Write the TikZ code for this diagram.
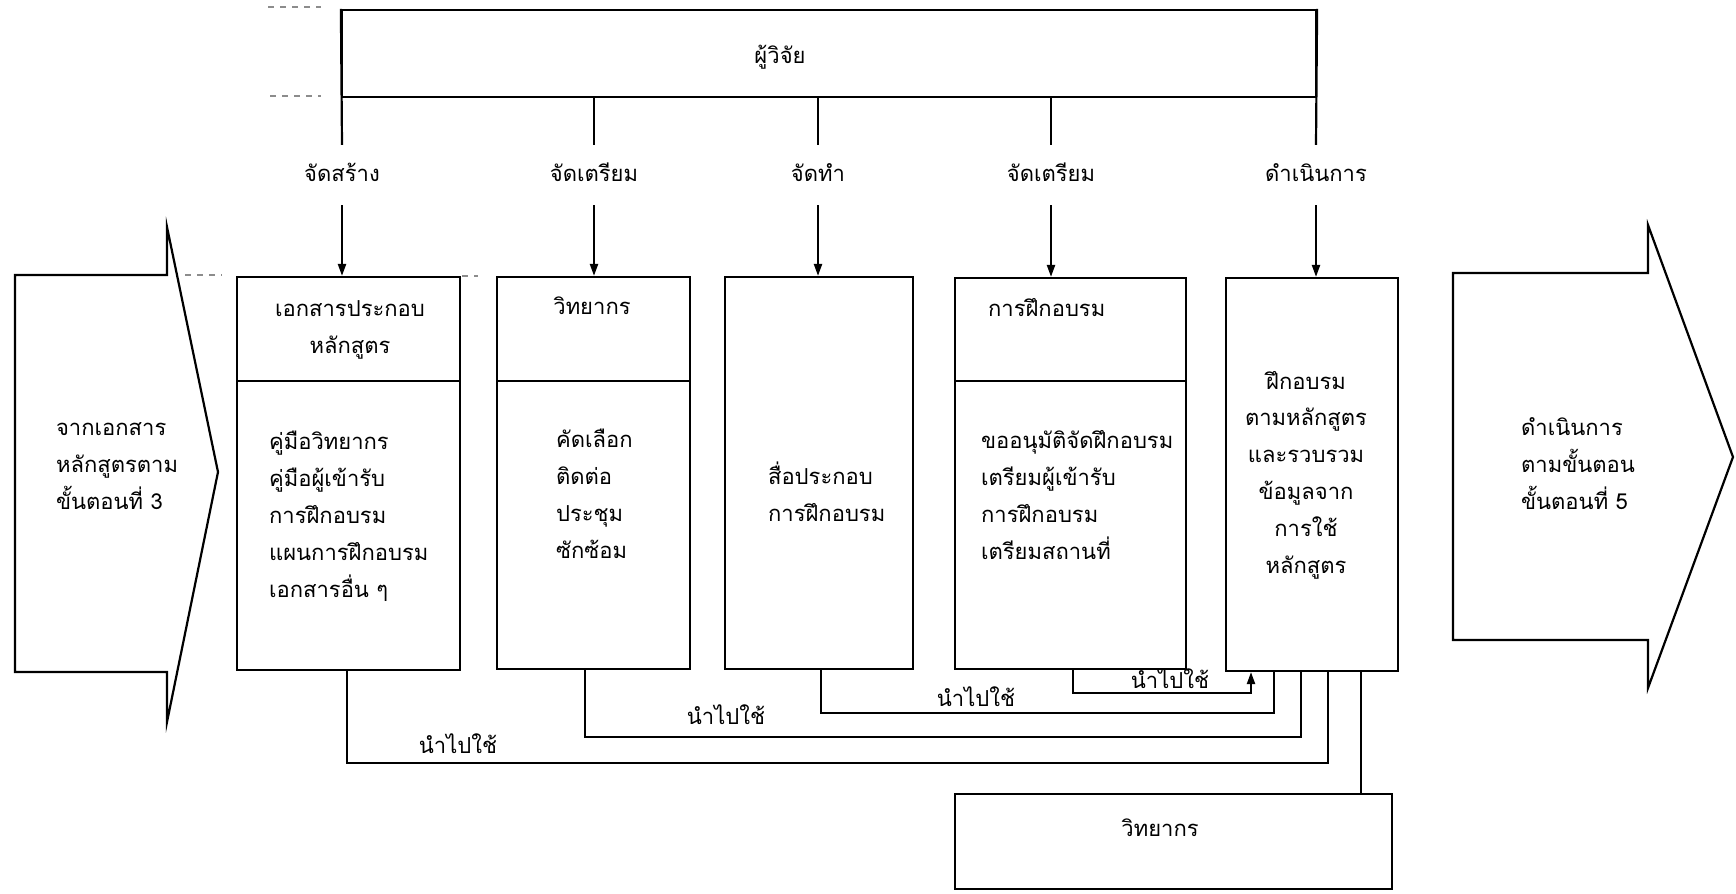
\documentclass[tikz,border=0pt]{standalone}
\usepackage{fontspec}
\newfontfamily\thai[Script=Thai]{Loma}
\usetikzlibrary{arrows.meta,calc,fit}
\begin{document}
\begin{tikzpicture}[x=0.5pt,y=-0.5pt,
  line width=1.1pt, line join=miter,
  frame/.style={draw, inner sep=0pt},
  txt/.style={font=\thai\fontsize{11pt}{18.4pt}\selectfont, inner sep=0pt},
  toplab/.style={txt, text height=8pt, text depth=2pt, inner ysep=9.5pt, inner xsep=0pt},
  arr/.style={-{Triangle[length=6pt,width=4pt]}},
  faint/.style={draw=black!45, line width=0.8pt, dashed}]
\useasboundingbox (0,0) rectangle (1736,894);

% big arrows
\draw (15,275) -- (167,275) -- (167,227) -- (218,472) -- (167,722) -- (167,672) -- (15,672) -- cycle;
\draw (1453,273) -- (1648,273) -- (1648,225) -- (1733,457) -- (1648,688) -- (1648,640) -- (1453,640) -- cycle;
\node[txt, align=left, anchor=base west] (ltext) at (55,509) {จากเอกสาร\\หลักสูตรตาม\\ขั้นตอนที่ 3};
\node[txt, align=left, anchor=base west] (rtext) at (1520,509) {ดำเนินการ\\ตามขั้นตอน\\ขั้นตอนที่ 5};

% researcher frame
\node[frame, fit={(342,10) (1316,97)}] (res) {};
\node[txt, anchor=base] (reslab) at (780,63) {ผู้วิจัย};

% boxes
\node[frame, fit={(237,277) (460,381)}] (head1) {};
\node[frame, fit={(237,381) (460,670)}] (body1) {};
\node[frame, fit={(497,277) (690,381)}] (head2) {};
\node[frame, fit={(497,381) (690,669)}] (body2) {};
\node[frame, fit={(725,277) (913,669)}] (box3) {};
\node[frame, fit={(955,278) (1186,381)}] (head4) {};
\node[frame, fit={(955,381) (1186,669)}] (body4) {};
\node[frame, fit={(1226,278) (1398,671)}] (box5) {};
\node[frame, fit={(955,794) (1392,889)}] (box6) {};

% box texts
\node[txt, align=center, anchor=base] (h1t) at (350,353) {เอกสารประกอบ\\หลักสูตร};
\node[txt, align=left, anchor=base west] (b1t) at (268,597) {คู่มือวิทยากร\\คู่มือผู้เข้ารับ\\การฝึกอบรม\\แผนการฝึกอบรม\\เอกสารอื่น ๆ};
\node[txt, anchor=base] (h2t) at (592,314) {วิทยากร};
\node[txt, align=left, anchor=base west] (b2t) at (555,558) {คัดเลือก\\ติดต่อ\\ประชุม\\ซักซ้อม};
\node[txt, align=left, anchor=base west] (b3t) at (767,521) {สื่อประกอบ\\การฝึกอบรม};
\node[txt, anchor=base west] (h4t) at (987,316) {การฝึกอบรม};
\node[txt, align=left, anchor=base west] (b4t) at (980,559) {ขออนุมัติจัดฝึกอบรม\\เตรียมผู้เข้ารับ\\การฝึกอบรม\\เตรียมสถานที่};
\node[txt, align=center, anchor=base] (b5t) at (1306,573) {ฝึกอบรม\\ตามหลักสูตร\\และรวบรวม\\ข้อมูลจาก\\การใช้\\หลักสูตร};
\node[txt, anchor=base] (b6t) at (1160,836) {วิทยากร};

% top labels and connectors
\node[toplab, anchor=base] (l1) at (342,181) {จัดสร้าง};
\node[toplab, anchor=base] (l2) at (594,181) {จัดเตรียม};
\node[toplab, anchor=base] (l3) at (818,181) {จัดทำ};
\node[toplab, anchor=base] (l4) at (1051,181) {จัดเตรียม};
\node[toplab, anchor=base] (l5) at (1316,181) {ดำเนินการ};
\draw (res.north west) -- (l1.north);
\draw (res.north east) -- (l5.north);
\draw (res.south -| l2.north) -- (l2.north);
\draw (res.south -| l3.north) -- (l3.north);
\draw (res.south -| l4.north) -- (l4.north);
\draw[arr] (l1.south) -- (l1.south |- head1.north);
\draw[arr] (l2.south) -- (l2.south |- head2.north);
\draw[arr] (l3.south) -- (l3.south |- box3.north);
\draw[arr] (l4.south) -- (l4.south |- head4.north);
\draw[arr] (l5.south) -- (l5.south |- box5.north);

% bottom connectors
\coordinate (cA) at (1328,763);
\coordinate (cB) at (1301,737);
\coordinate (cC) at (1274,713);
\coordinate (cD) at (1251,693);
\coordinate (cE) at (1361,794);
\draw ([xshift=-0.75pt]body1.south) |- (cA) -- (cA |- box5.south);
\draw ([xshift=-4.25pt]body2.south) |- (cB) -- (cB |- box5.south);
\draw ([xshift=1pt]box3.south) |- (cC) -- (cC |- box5.south);
\draw[arr] ([xshift=1.25pt]body4.south) |- (cD) -- (cD |- box5.south);
\draw (cE |- box5.south) -- (cE);
\node[txt, anchor=base] (uA) at (458,753) {นำไปใช้};
\node[txt, anchor=base] (uB) at (726,724) {นำไปใช้};
\node[txt, anchor=base] (uC) at (976,706) {นำไปใช้};
\node[txt, anchor=base] (uD) at (1170,688) {นำไปใช้};

% faint dashed guide fragments
\draw[faint] (268,7) -- (321,7);
\draw[faint] (270,96) -- (321,96);
\draw[faint] (185,275) -- (222,275);
\draw[faint] (462,276) -- (478,276);
\end{tikzpicture}
\end{document}
